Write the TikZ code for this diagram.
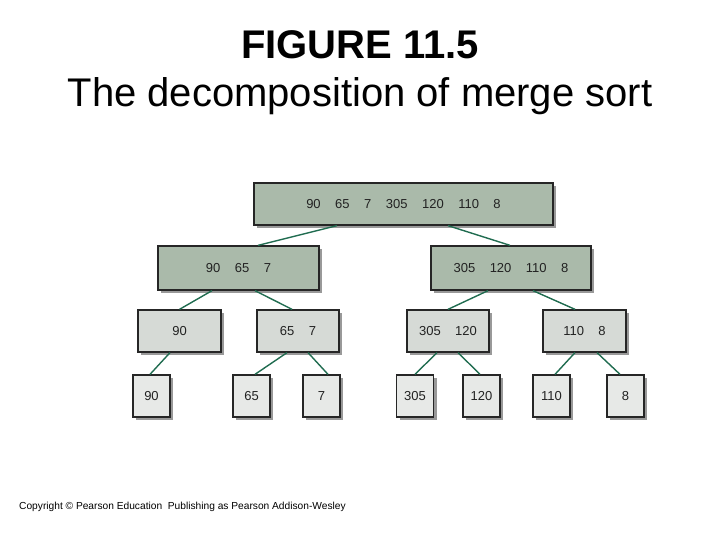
\documentclass[tikz,border=0pt]{standalone}
\usepackage{fontspec}
\setmainfont{Liberation Sans}
\usepackage{tikz}
\usetikzlibrary{shadows}
\definecolor{boxdark}{RGB}{170,186,170}
\definecolor{boxmid}{RGB}{214,218,214}
\definecolor{boxlight}{RGB}{231,233,231}
\definecolor{link}{RGB}{32,108,80}
\definecolor{ink}{RGB}{34,34,34}
\newcommand{\gp}{\hspace{14.5pt}}

\begin{document}
\begin{tikzpicture}[x=1pt,y=-1pt,font=\fontsize{13}{15}\selectfont,text=ink]
\tikzset{
  cell/.style={draw=black!85,line width=1.3pt,inner sep=0pt,minimum height=42pt,
    drop shadow={shadow xshift=3pt,shadow yshift=-3pt,fill=black!40,opacity=1}},
  big/.style={cell,fill=boxdark},
  half/.style={cell,fill=boxmid},
  one/.style={cell,fill=boxlight,minimum width=37pt},
  edge/.style={draw=link,line width=1.4pt}
}
\useasboundingbox (0,0) rectangle (720,540);

\node[anchor=base,font=\fontsize{40}{48}\selectfont\bfseries,text=black] (ttl) at (360,58.5) {FIGURE 11.5};
\node[anchor=base,font=\fontsize{40}{48}\selectfont,text=black] (sub) at (360,106.5) {The decomposition of merge sort};

\node[big,minimum width=299pt] (all) at (403.5,204) {90\gp 65\gp 7\gp 305\gp 120\gp 110\gp 8};

\node[big,minimum width=161pt,minimum height=44pt] (lft) at (238.5,268) {90\gp 65\gp 7};
\node[big,minimum width=160pt,minimum height=44pt] (rgt) at (511,268) {305\gp 120\gp 110\gp 8};

\node[half,minimum width=83pt] (la) at (179.5,331) {90};
\node[half,minimum width=82pt] (lb) at (298,331) {65\gp 7};
\node[half,minimum width=82pt] (ra) at (448,331) {305\gp 120};
\node[half,minimum width=83pt] (rb) at (584.5,331) {110\gp 8};

\node[one] (n90) at (151.5,396) {90};
\node[one] (n65) at (251.5,396) {65};
\node[one] (n7) at (321.5,396) {7};
\node[one] (n305) at (415,396) {305};
\node[one] (n120) at (481.5,396) {120};
\node[one] (n110) at (551.5,396) {110};
\node[one] (n8) at (625.5,396) {8};

\draw[edge] ([xshift=-66.5]all.south) -- ([xshift=19.5]lft.north);
\draw[edge] ([xshift=44.5]all.south) -- ([xshift=-1]rgt.north);
\draw[edge] ([xshift=-26.5]lft.south) -- (la.north);
\draw[edge] ([xshift=16.5]lft.south) -- ([xshift=-6]lb.north);
\draw[edge] ([xshift=-23]rgt.south) -- (ra.north);
\draw[edge] ([xshift=22]rgt.south) -- ([xshift=-9.5]rb.north);
\draw[edge] ([xshift=-9.5]la.south) -- ([xshift=-1.5]n90.north);
\draw[edge] ([xshift=-11]lb.south) -- ([xshift=3.5]n65.north);
\draw[edge] ([xshift=10]lb.south) -- ([xshift=6.5]n7.north);
\draw[edge] ([xshift=-11]ra.south) -- (n305.north);
\draw[edge] ([xshift=10]ra.south) -- ([xshift=-1.5]n120.north);
\draw[edge] ([xshift=-9.5]rb.south) -- ([xshift=3.5]n110.north);
\draw[edge] ([xshift=12.5]rb.south) -- ([xshift=-5.5]n8.north);

\node[anchor=base west,font=\fontsize{10.2}{12}\selectfont,text=black,inner sep=0pt] (cpy) at (19,509)
 {Copyright © Pearson Education\ \ Publishing as Pearson Addison-Wesley};
\end{tikzpicture}
\end{document}
